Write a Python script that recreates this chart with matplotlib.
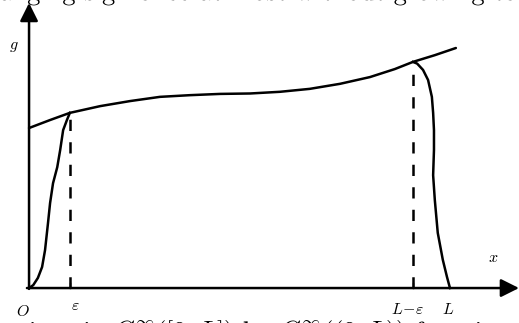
import numpy as np
import matplotlib
matplotlib.use("Agg")
import matplotlib.pyplot as plt
import matplotlib.patheffects as pe

plt.rcParams["font.family"] = "serif"
plt.rcParams["font.serif"] = ["cmr10", "DejaVu Serif"]
plt.rcParams["mathtext.fontset"] = "cm"
plt.rcParams["axes.unicode_minus"] = False

# domain, L = 10 units
L = 10.0
EPS = 0.97
RIGHT_CUT = 9.12

# the function g
g_x = [0.00, 0.50, 0.97, 1.69, 2.40, 3.11, 3.82, 4.54, 5.25, 5.96,
       6.67, 7.39, 8.10, 8.69, 9.12, 9.64, 10.14]
g_y = [3.80, 3.99, 4.16, 4.32, 4.44, 4.54, 4.58, 4.61, 4.62, 4.66,
       4.73, 4.85, 5.01, 5.20, 5.37, 5.53, 5.70]

# cut-off part near 0
left_x = [0.00, 0.10, 0.21, 0.31, 0.38, 0.45, 0.50, 0.57, 0.67, 0.74,
          0.81, 0.90, 0.97]
left_y = [0.00, 0.07, 0.24, 0.50, 0.90, 1.54, 2.02, 2.49, 2.87, 3.28,
          3.75, 3.99, 4.16]

# cut-off part near L
right_x = [9.12, 9.22, 9.36, 9.48, 9.57, 9.60, 9.62, 9.62, 9.60, 9.64,
           9.71, 9.83, 9.93, 10.00]
right_y = [5.37, 5.33, 5.18, 4.94, 4.54, 4.16, 3.75, 3.28, 2.68, 2.09,
           1.31, 0.67, 0.26, 0.00]

TOP_TEXT = "changing sign once at most without growing too fast"
BOTTOM_LEFT = "functions in"
BOTTOM_RIGHT = r"$C^\infty([0,L])$ by $C^\infty((0,L))$ functions"

W, H = 519, 323
fig = plt.figure(figsize=(W / 100, H / 100), dpi=100)
ax = fig.add_axes([0, 0, 1, 1])
ax.set_xlim(-0.69, 11.64)
ax.set_ylim(-0.83, 6.84)
ax.axis("off")

LW = 1.8
ax.plot(g_x, g_y, color="black", lw=LW, solid_capstyle="round",
        solid_joinstyle="round")
ax.plot(left_x, left_y, color="black", lw=LW, solid_joinstyle="round")
ax.plot(right_x, right_y, color="black", lw=LW, solid_joinstyle="round")

# dashed guides
ax.plot([EPS, EPS], [0, left_y[-1] - 0.12], color="black", lw=LW,
        ls=(0, (4.5, 4.5)))
ax.plot([RIGHT_CUT, RIGHT_CUT], [0, right_y[0] - 0.15], color="black",
        lw=LW, ls=(0, (4.5, 4.5)))
for xt in (EPS, RIGHT_CUT):
    ax.plot([xt, xt], [0, 0.12], color="black", lw=1.0)

# axes with arrows
arrow = dict(arrowstyle="-|>,head_length=0.5,head_width=0.25",
             mutation_scale=22, lw=LW, color="black", shrinkA=0, shrinkB=0)
ax.annotate("", xy=(11.64, 0), xytext=(-0.05, 0), arrowprops=arrow)
ax.annotate("", xy=(0, 6.77), xytext=(0, -0.02), arrowprops=arrow)

fs = 11.5
ax.text(-0.36, 5.72, r"$g$", fontsize=fs, ha="center", va="center")
ax.text(11.02, 0.71, r"$x$", fontsize=fs, ha="center", va="center")
ax.text(-0.14, -0.55, r"$O$", fontsize=fs, ha="center", va="center")
ax.text(1.09, -0.42, r"$\varepsilon$", fontsize=fs, ha="center", va="center")
ax.text(8.98, -0.52, r"$L\!-\!\varepsilon$", fontsize=fs, ha="center",
        va="center")
ax.text(9.95, -0.52, r"$L$", fontsize=fs, ha="center", va="center")

# surrounding page text, cut by the crop; drawn as path so the
# canvas edge clips it cleanly
fig.text(-27 / W, 1.0, TOP_TEXT, fontsize=19, ha="left", va="baseline",
         path_effects=[pe.Normal()])
fig.text(105 / W, (H - 340) / H, BOTTOM_LEFT, fontsize=19, ha="right",
         va="baseline")
fig.text(113 / W, (H - 340) / H, BOTTOM_RIGHT, fontsize=19, ha="left",
         va="baseline")

fig.savefig("out.png", dpi=100)
